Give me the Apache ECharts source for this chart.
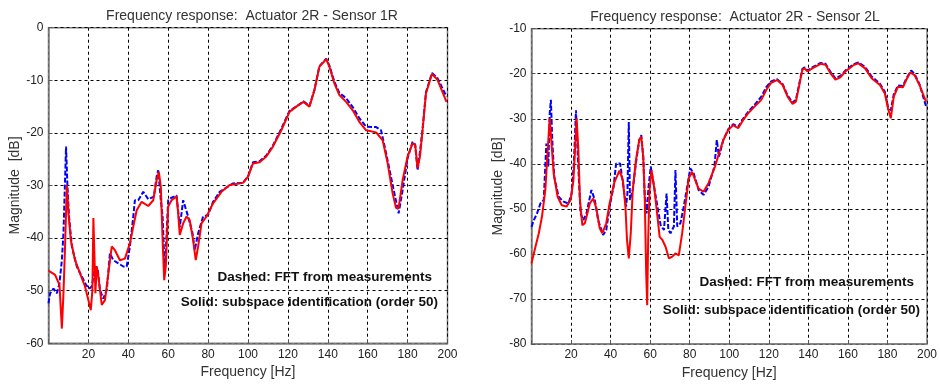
<!DOCTYPE html>
<html>
<head>
<meta charset="utf-8">
<script src="https://cdn.jsdelivr.net/npm/echarts@6/dist/echarts.min.js"></script>
<style>
  html, body { margin: 0; padding: 0; background: #fff; }
  #chart { width: 940px; height: 385px; }
</style>
</head>
<body>
<div id="chart"></div>
<script>
// left panel: Actuator 2R - Sensor 1R
var leftSolidHz = [0, 3.3, 5.5, 6.7, 7.5, 8.3, 9.2, 10, 11.2, 13.3, 15.8, 18.3, 20, 21.2, 22, 22.5, 23, 23.5, 24.2, 25, 26.7, 28.3, 30, 31.7, 33.3, 35.8, 38.3, 40.8, 42.5, 44.2, 46.7, 50, 52.5, 54.2, 55.3, 56.3, 57.2, 58, 58.8, 60, 61.7, 64.2, 65, 65.8, 67.5, 69.2, 70.8, 72.5, 73.8, 75, 76.7, 79.2, 82.5, 86.7, 90.8, 97.5, 100, 102.5, 105.8, 109.2, 112.5, 116.7, 120.8, 124.2, 127.8, 130.8, 133.3, 135.8, 139.2, 140.8, 143.3, 145.8, 149.2, 152.5, 155.8, 159.2, 164.2, 167.5, 170, 172.5, 174.2, 175.5, 177.5, 180, 182.5, 183.8, 185, 186.2, 187.5, 189.2, 192.2, 195, 199.5];
var leftSolidDb = [-46.2, -47, -48.9, -57.2, -50.5, -41.6, -29.9, -35.3, -40.4, -44.2, -46.7, -49.2, -51.8, -53.7, -49.9, -36.2, -42.9, -50.5, -45.4, -47.3, -52.7, -51.8, -46.7, -41.6, -42.3, -44.2, -43.9, -41.0, -37.8, -34.7, -33.1, -33.9, -32.8, -29.0, -27.4, -30.2, -40.4, -48, -45.4, -34.0, -32.8, -32.1, -35.3, -39.4, -37.2, -35.9, -36.6, -40.4, -44.2, -41.6, -37.2, -35.9, -33.4, -31.2, -29.9, -29.5, -28.3, -25.8, -25.6, -24.5, -22.6, -19.5, -16.0, -15.0, -14.1, -15.0, -11.9, -7.4, -6.0, -7.4, -10.6, -12.8, -14.1, -15.7, -17.9, -19.5, -19.9, -21.4, -25.8, -31.5, -34.3, -34.3, -29.0, -24.5, -22.0, -22.3, -26.7, -24.5, -19.5, -12.5, -8.8, -9.9, -14.1];
var leftDashedHz = [0, 0.8, 2.5, 4.2, 5.5, 6.7, 7.5, 8, 8.8, 9.5, 10.3, 11.7, 14.2, 16.7, 18.8, 20.5, 21.7, 22.8, 23.8, 24.7, 25.8, 27.5, 29.2, 30.8, 32.5, 35, 37.5, 39.2, 40.8, 42.5, 43.3, 45, 47.5, 50, 52.8, 54.2, 55, 56.3, 57.2, 58.3, 59.2, 60, 61.7, 64.2, 65.8, 67.5, 68.5, 70, 72.2, 73.3, 75, 77.5, 80, 82.5, 85.8, 92.5, 97.5, 100, 102.5, 105.8, 109.2, 112.5, 116.7, 120.8, 124.2, 127.8, 130.8, 133.3, 135.8, 139.2, 140.8, 143.3, 145.8, 149.2, 152.5, 155.8, 159.2, 164.2, 166.7, 169.2, 172.5, 175.5, 177.5, 180, 182.5, 183.8, 185, 186.7, 187.5, 189.2, 192.2, 195, 199.5];
var leftDashedDb = [-52.4, -50.5, -49.6, -50.5, -48.6, -44.2, -39.1, -32.8, -22.6, -30.2, -35.9, -41.6, -45.4, -47.3, -48.9, -49.6, -49.2, -46.7, -45.4, -46.1, -49.9, -51.5, -49.9, -42.9, -44.2, -44.8, -45.4, -45.4, -41.6, -35.9, -32.8, -32.8, -31.2, -32.6, -32.1, -28.3, -27.1, -32.8, -35.9, -46.7, -39.1, -32.8, -32.3, -31.9, -37.9, -32.8, -32.5, -35.9, -39.1, -42.3, -39.1, -35.9, -35.6, -33.1, -31.2, -29.6, -29.5, -28.3, -25.6, -25.4, -24.3, -22.4, -19.2, -15.8, -15.0, -14.0, -14.9, -11.8, -7.3, -5.9, -7.2, -10.3, -12.4, -13.4, -15.1, -17.2, -18.8, -18.9, -19.5, -23.8, -29.9, -35.3, -30.9, -24.8, -21.7, -22.2, -27.1, -22.0, -19.3, -12.3, -8.6, -9.6, -13.1];

// right panel: Actuator 2R - Sensor 2L
var rightSolidHz = [0, 2, 3.7, 5.3, 7, 8.2, 9.2, 10, 11.2, 13.2, 15.3, 17.8, 19.8, 21.2, 22.2, 22.8, 23.7, 24.5, 25.7, 27, 29.5, 31.2, 32.8, 34.5, 35.8, 37.8, 39.5, 42, 44.5, 46.2, 47.5, 48.3, 49.2, 50.2, 51.2, 52.8, 54.5, 55.5, 56.5, 57.3, 58, 58.5, 59, 59.7, 60.7, 62, 63.7, 64.8, 66.2, 67.8, 69.5, 71.2, 72.8, 74.5, 76.2, 77.8, 79.5, 81.2, 82.8, 84.5, 87, 89.5, 92.8, 94.8, 97, 99.5, 102, 104.5, 107, 109.5, 112.8, 116.2, 118.7, 121.2, 124.2, 127, 129.5, 132, 133.7, 135.3, 137, 138.2, 139.5, 142, 146.2, 148.7, 151.2, 153.7, 156.2, 158.7, 162.8, 165.3, 168.7, 172, 176.2, 178.7, 180.3, 181.7, 183.2, 185.3, 187.8, 189.5, 191.5, 193.7, 196.2, 199.5];
var rightSolidDb = [-62.1, -58.4, -55.4, -51.7, -45.8, -36.9, -29.9, -34.7, -42.1, -47.3, -49.2, -49.5, -48.0, -43.6, -35.5, -29.9, -36.9, -48.0, -53.6, -53.2, -48.8, -47.7, -49.9, -54.3, -55.4, -53.2, -48.8, -44.0, -41.5, -43.6, -49.5, -56.9, -61.0, -55.4, -45.8, -39.2, -34.7, -34.0, -38.4, -48.0, -64.3, -71.4, -56.9, -45.8, -41.4, -45.1, -51.7, -56.2, -56.9, -58.4, -61.0, -60.6, -59.9, -60.3, -55.4, -49.5, -43.2, -41.8, -43.6, -45.5, -46.2, -44.3, -40.6, -37.7, -34.7, -32.5, -31.4, -32.1, -30.3, -28.8, -27.3, -25.8, -23.6, -22.0, -21.4, -22.5, -25.1, -26.7, -26.2, -22.8, -19.1, -18.8, -19.5, -18.8, -17.8, -18.0, -19.9, -21.3, -20.8, -19.5, -18.1, -17.7, -18.8, -21.0, -22.5, -24.4, -27.7, -29.9, -25.1, -22.9, -23.0, -21.4, -19.7, -20.3, -22.5, -26.2];
var rightDashedHz = [0, 1.2, 2.8, 4.5, 6.2, 7.5, 8.5, 9.2, 9.8, 10.5, 11.5, 13.7, 16.2, 18.7, 20.3, 21.5, 22.5, 23.5, 24.8, 26.2, 27.8, 30.3, 32, 33.7, 36.2, 37.8, 39.5, 41.5, 42.8, 44.8, 46.5, 47.8, 48.5, 49.2, 49.8, 51.2, 52.8, 54.5, 55.5, 56.5, 57.3, 58.2, 59.2, 60.3, 62, 63.7, 65.3, 67, 68.3, 69.2, 70.3, 72, 72.8, 73.7, 75.3, 77, 78.7, 80.3, 82, 84.5, 87, 89.5, 92.5, 93.7, 94.8, 97, 99.5, 102, 104.5, 107, 109.5, 112.8, 116.2, 118.7, 121.2, 124.2, 127, 129.5, 132, 133.7, 135.3, 137, 138.2, 139.5, 142, 146.2, 148.7, 151.2, 153.7, 156.2, 158.7, 162.8, 165.3, 168.7, 172, 176.2, 178.7, 180.3, 181.7, 183.2, 185.3, 187.8, 189.5, 192, 193.7, 196.2, 199.5];
var rightDashedDb = [-54.0, -52.5, -51.0, -48.8, -48.0, -35.5, -40.6, -28.8, -25.8, -34.7, -42.9, -47.3, -48.4, -48.8, -46.6, -39.2, -28.1, -39.2, -51.0, -52.5, -51.0, -45.8, -48.0, -52.5, -55.8, -54.7, -49.5, -45.1, -39.9, -39.9, -45.1, -49.5, -46.6, -30.7, -48.0, -45.8, -39.9, -34.7, -33.6, -38.4, -47.3, -51.0, -45.1, -40.6, -45.1, -49.5, -53.6, -54.7, -46.6, -54.7, -55.4, -53.9, -41.4, -53.9, -53.2, -49.5, -45.1, -41.0, -42.1, -45.8, -46.9, -45.1, -40.6, -34.7, -38.4, -34.7, -32.3, -31.2, -31.8, -30.0, -28.5, -26.9, -25.1, -23.0, -21.7, -21.2, -22.3, -24.8, -26.4, -25.8, -22.4, -18.9, -18.6, -19.3, -18.6, -17.6, -17.8, -19.6, -21.0, -20.5, -19.3, -17.9, -17.5, -18.5, -20.6, -22.2, -24.0, -27.4, -28.1, -24.6, -22.6, -22.7, -21.1, -19.3, -20.0, -22.3, -27.2];

var xTicks = [0, 20, 40, 60, 80, 100, 120, 140, 160, 180, 200];
var titles = ['Frequency response:  Actuator 2R - Sensor 1R', 'Frequency response:  Actuator 2R - Sensor 2L'];
var noteDashed = 'Dashed: FFT from measurements';
var noteSolid = 'Solid: subspace identification (order 50)';

function pairs(hz, db) {
  return hz.map(function (f, i) { return [f, db[i]]; });
}

var font = 'Liberation Sans, Arial, sans-serif';

function xAxis(idx) {
  return {
    gridIndex: idx, type: 'value', min: xTicks[0], max: xTicks[xTicks.length - 1], interval: 20,
    name: 'Frequency [Hz]', nameLocation: 'middle', nameGap: 20,
    nameTextStyle: { color: '#333', fontSize: 14, fontFamily: font },
    axisLine: { show: true, onZero: false, lineStyle: { color: '#7f7f7f', width: 1.5 } },
    axisTick: { show: true, inside: true, length: 4, lineStyle: { color: '#555' } },
    axisLabel: { color: '#222', fontSize: 12, fontFamily: font, margin: 5,
      formatter: function (v) { return v === 0 ? '' : v; } },
    splitLine: { show: true, lineStyle: { color: '#000', type: [3, 3], width: 1 } }
  };
}

function yAxis(idx, min, max) {
  return {
    gridIndex: idx, type: 'value', min: min, max: max, interval: 10,
    name: 'Magnitude  [dB]', nameLocation: 'middle', nameGap: 24, nameRotate: 90,
    nameTextStyle: { color: '#333', fontSize: 14, fontFamily: font },
    axisLine: { show: true, onZero: false, lineStyle: { color: '#7f7f7f', width: 1.5 } },
    axisTick: { show: true, inside: true, length: 4, lineStyle: { color: '#555' } },
    axisLabel: { color: '#222', fontSize: 12, fontFamily: font, margin: 5 },
    splitLine: { show: true, lineStyle: { color: '#000', type: [3, 3], width: 1 } }
  };
}

function dashed(idx, data) {
  return { type: 'line', xAxisIndex: idx, yAxisIndex: idx, data: data, showSymbol: false, silent: true,
    lineStyle: { color: '#0000ff', width: 2, type: [5, 2] }, z: 2 };
}
function solid(idx, data) {
  return { type: 'line', xAxisIndex: idx, yAxisIndex: idx, data: data, showSymbol: false, silent: true,
    lineStyle: { color: '#ff0000', width: 2 }, z: 3 };
}

function note(text, right, top) {
  return { type: 'text', right: right, top: top, z: 10,
    style: { text: text, fill: '#111', font: 'bold 13.5px ' + font } };
}

var chart = echarts.init(document.getElementById('chart'));
chart.setOption({
  backgroundColor: '#fff',
  animation: false,
  title: [
    { text: titles[0], left: 247, top: 4, textAlign: 'center',
      textStyle: { color: '#333', fontSize: 14, fontWeight: 'normal', fontFamily: font } },
    { text: titles[1], left: 730, top: 5, textAlign: 'center',
      textStyle: { color: '#333', fontSize: 14, fontWeight: 'normal', fontFamily: font } }
  ],
  grid: [
    { left: 48.5, top: 27.7, width: 399, height: 315.6, show: true, backgroundColor: '#fff', borderColor: '#7f7f7f', borderWidth: 1.5 },
    { left: 531.5, top: 28.7, width: 399.5, height: 315.3, show: true, backgroundColor: '#fff', borderColor: '#7f7f7f', borderWidth: 1.5 }
  ],
  xAxis: [xAxis(0), xAxis(1)],
  yAxis: [yAxis(0, -60, 0), yAxis(1, -80, -10)],
  series: [
    dashed(0, pairs(leftDashedHz, leftDashedDb)),
    solid(0, pairs(leftSolidHz, leftSolidDb)),
    dashed(1, pairs(rightDashedHz, rightDashedDb)),
    solid(1, pairs(rightSolidHz, rightSolidDb))
  ],
  graphic: [
    note(noteDashed, 940 - 432, 270),
    note(noteSolid, 940 - 438, 295),
    note(noteDashed, 940 - 914, 275),
    note(noteSolid, 940 - 920, 303)
  ]
});
</script>
</body>
</html>
